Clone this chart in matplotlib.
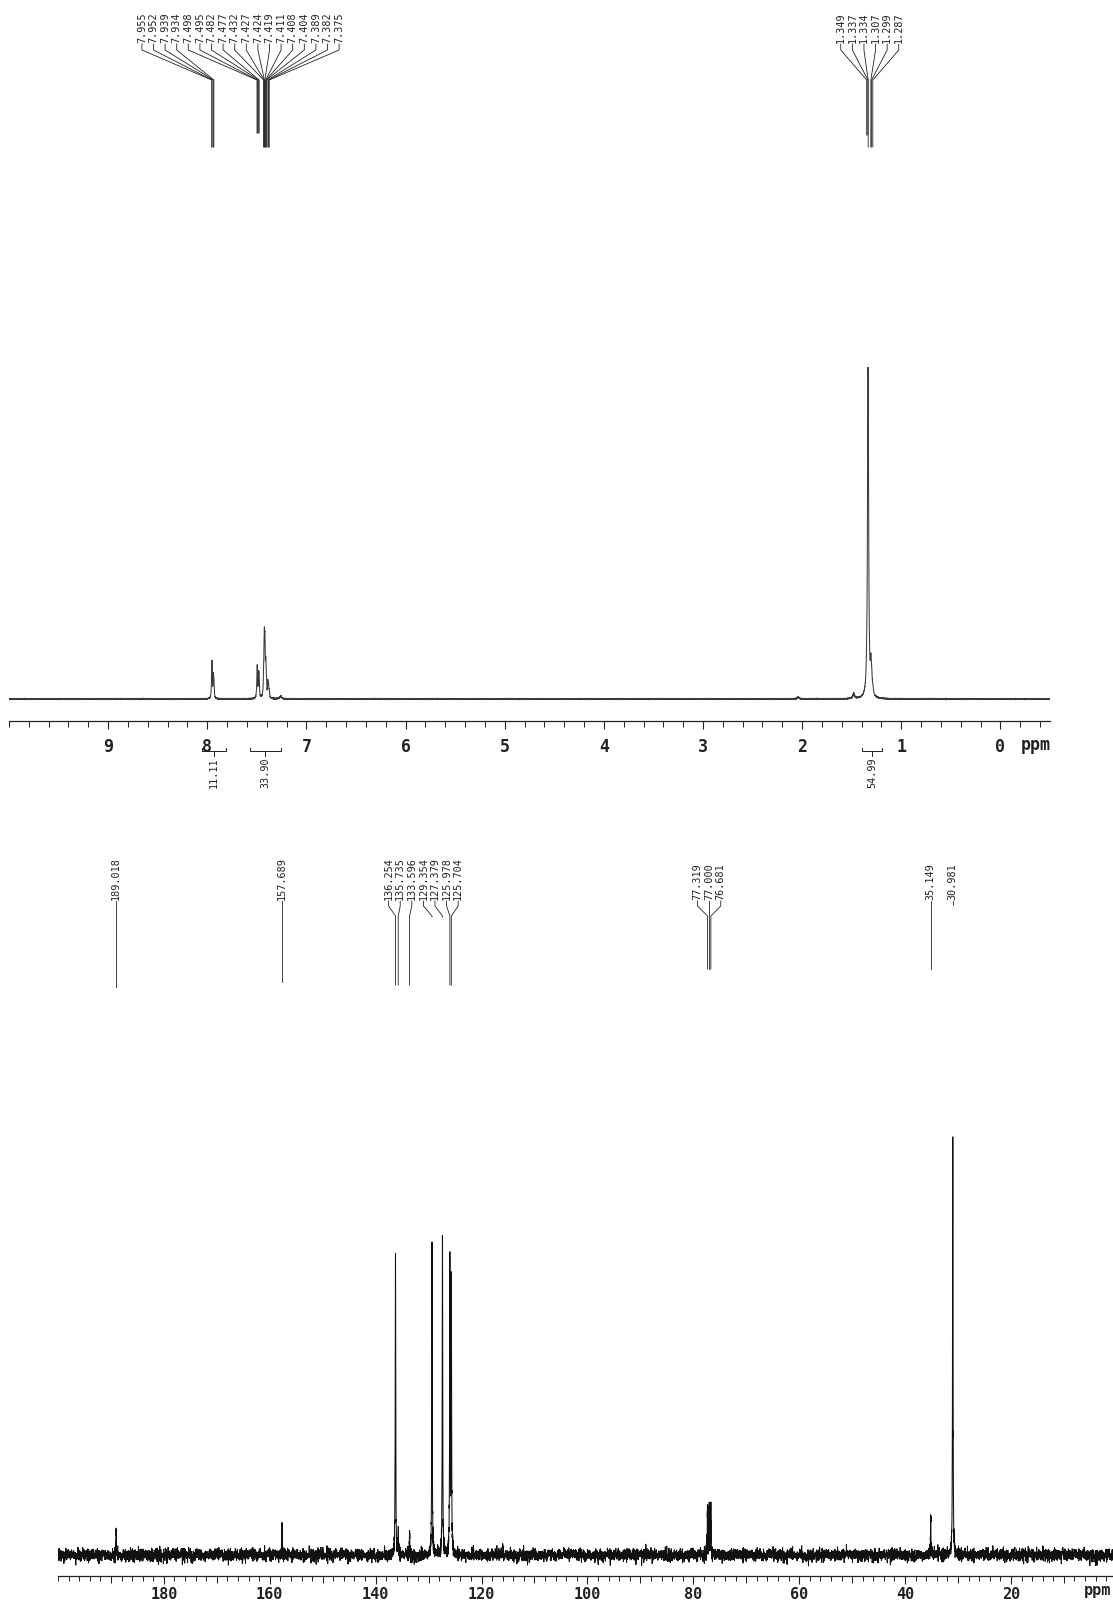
import numpy as np
import matplotlib.pyplot as plt
from matplotlib.ticker import FixedLocator, MultipleLocator

# 1H peak list (ppm) with peak heights
h1_shifts = [7.955, 7.952, 7.939, 7.934, 7.498, 7.495, 7.482, 7.477,
             7.432, 7.427, 7.424, 7.419, 7.411, 7.408, 7.404, 7.389, 7.382, 7.375,
             1.349, 1.337, 1.334, 1.307, 1.299, 1.287]
h1_heights = [22, 22, 19, 15, 20, 18, 20, 17,
              15, 25, 38, 44, 20, 15, 10, 14, 10, 6,
              3, 150, 200, 25, 15, 5]
# unlabelled small signals
h1_small_shifts = [7.26, 2.04, 1.48]
h1_small_heights = [3, 2, 5]

h1_integral_ranges = [(8.05, 7.81), (7.57, 7.26), (1.40, 1.19)]
h1_integral_values = ["11.11", "33.90", "54.99"]

# 13C peak list (ppm) with peak heights
c13_shifts = [189.018, 157.689, 136.254, 135.735, 133.596, 129.354, 127.379,
              125.978, 125.704, 77.319, 77.000, 76.681, 35.149, 30.981]
c13_heights = [24, 30, 302, 22, 26, 311, 316, 292, 270, 44, 46, 44, 37, 417]

# label clusters (index ranges into the peak lists)
h1_groups = [(0, 18), (18, 24)]
c13_groups = [(0, 1), (1, 2), (2, 9), (9, 12), (12, 13), (13, 14)]

W, H = 1113, 1600
MONO = "DejaVu Sans Mono"
INK = "#222222"


def rect(l, t, r, b):
    return [l / W, 1 - b / H, (r - l) / W, (b - t) / H]


def lorentz(x, x0, h, w):
    return h / (1 + ((x - x0) / w) ** 2)


def style_axis(ax):
    for side in ("top", "left", "right"):
        ax.spines[side].set_visible(False)
    ax.spines["bottom"].set_color(INK)
    ax.spines["bottom"].set_linewidth(0.9)
    ax.set_yticks([])
    ax.patch.set_alpha(0)


def peak_labels(ax, shifts, groups, spacing, y_text, y_b1, y_b2, ends, fs):
    for a, b in groups:
        s = shifts[a:b]
        n = b - a
        centre = (s[0] + s[-1]) / 2
        xs = centre + spacing * ((n - 1) / 2 - np.arange(n))
        for xl, xp, ye in zip(xs, s, ends[a:b]):
            ax.text(xl, y_text, f"{xp:.3f}", rotation=90, ha="center", va="bottom",
                    fontsize=fs, family=MONO, color=INK, clip_on=False)
            if ye >= y_b2:
                ax.plot([xl, xl], [y_text - 1, ye], color=INK, lw=0.6, clip_on=False)
            else:
                ax.plot([xl, xl, xp, xp], [y_text - 1, y_b1, y_b2, ye],
                        color=INK, lw=0.6, clip_on=False)


fig = plt.figure(figsize=(W / 100, H / 100), dpi=100)
rng = np.random.default_rng(11)

# ---------------- 1H spectrum ----------------
ax1 = fig.add_axes(rect(9, 0, 1050, 721))
style_axis(ax1)
ax1.set_xlim(10, -0.5)
ax1.set_ylim(-22, 699)

x1 = np.linspace(10, -0.5, 21001)
y1 = np.zeros_like(x1)
for s, h in zip(h1_shifts, h1_heights):
    y1 += lorentz(x1, s, h, 0.0035 if s > 5 else 0.006)
for s, h in zip(h1_small_shifts, h1_small_heights):
    y1 += lorentz(x1, s, h, 0.01)
y1 += rng.normal(0, 0.25, x1.size)
ax1.plot(x1, y1, color="#3a3a3a", lw=0.75)

ax1.xaxis.set_major_locator(FixedLocator(range(0, 10)))
ax1.xaxis.set_minor_locator(MultipleLocator(0.2))
ax1.tick_params(axis="x", which="major", length=6, width=0.8, color=INK, pad=6,
                labelsize=12, labelcolor=INK)
ax1.tick_params(axis="x", which="minor", length=4, width=0.7, color=INK)
for lab in ax1.get_xticklabels():
    lab.set_family(MONO)
    lab.set_fontweight("bold")
ax1.text(-0.36, -46, "ppm", ha="center", va="center", fontsize=12, family=MONO,
         fontweight="bold", color=INK, clip_on=False)

# integrals under the axis
for (lo, hi), v in zip(h1_integral_ranges, h1_integral_values):
    mid = (lo + hi) / 2
    ax1.plot([lo, lo, hi, hi], [-49, -52, -52, -49], color=INK, lw=0.7, clip_on=False)
    ax1.plot([mid, mid], [-52, -57], color=INK, lw=0.7, clip_on=False)
    ax1.text(mid, -58, v, rotation=90, ha="center", va="top", fontsize=7.3,
             family=MONO, color=INK, clip_on=False)

h1_ends = [552] * 4 + [566] * 4 + [552] * 10 + [564, 564, 552, 552, 552, 552]
peak_labels(ax1, h1_shifts, h1_groups, 0.117, 656, 649, 619, h1_ends, 7.3)

# ---------------- 13C spectrum ----------------
ax2 = fig.add_axes(rect(58, 800, 58 + 205 * 5.294, 1576))
style_axis(ax2)
ax2.set_xlim(200, -5)
ax2.set_ylim(-21, 755)

x2 = np.linspace(200, -5, 8001)
x2 = np.unique(np.concatenate([x2] + [s + np.linspace(-0.4, 0.4, 81) for s in c13_shifts]))[::-1]
y2 = rng.normal(0, 3.1, x2.size)
for s, h in zip(c13_shifts, c13_heights):
    y2 += lorentz(x2, s, h, 0.05)
ax2.plot(x2, y2, color="#111111", lw=0.75)

ax2.xaxis.set_major_locator(FixedLocator(range(20, 181, 20)))
ax2.xaxis.set_minor_locator(MultipleLocator(2))
ax2.tick_params(axis="x", which="major", length=6, width=0.8, color=INK, pad=2,
                labelsize=11, labelcolor=INK)
ax2.tick_params(axis="x", which="minor", length=3.5, width=0.7, color=INK)
for lab in ax2.get_xticklabels():
    lab.set_family(MONO)
    lab.set_fontweight("bold")
mid_ticks = ax2.secondary_xaxis("bottom")
mid_ticks.set_xticks(range(10, 200, 20))
mid_ticks.set_xticklabels([])
mid_ticks.tick_params(length=5, width=0.7, color=INK)
mid_ticks.spines["bottom"].set_visible(False)
ax2.text(3.7, -35, "ppm", ha="center", va="center", fontsize=11, family=MONO,
         fontweight="bold", color=INK, clip_on=False)

c13_ends = [568, 573, 570, 570, 570, 638, 638, 570, 570, 586, 586, 586, 586, 650]
peak_labels(ax2, c13_shifts, c13_groups, 2.19, 655, 649, 639, c13_ends, 7.3)

fig.savefig("out.png", dpi=100, facecolor="white")
